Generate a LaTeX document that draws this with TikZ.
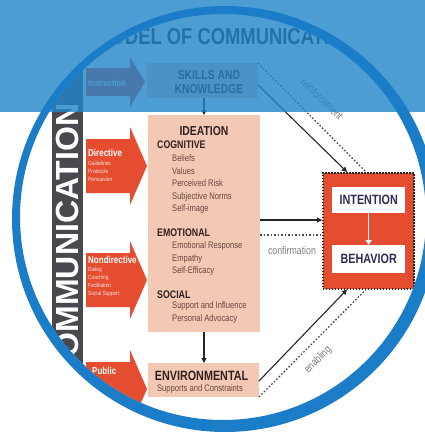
\documentclass[tikz,border=0pt]{standalone}
\usepackage{fontspec}
\setmainfont{Liberation Sans}
\newfontfamily\cond[FakeStretch=0.8]{Liberation Sans}
\usetikzlibrary{arrows.meta}
\definecolor{bandblue}{RGB}{33,133,203}
\definecolor{ringblue}{RGB}{27,125,200}
\definecolor{redc}{RGB}{228,77,48}
\definecolor{peach}{RGB}{243,201,182}
\definecolor{barg}{RGB}{72,72,78}
\definecolor{ink}{RGB}{50,32,32}
\definecolor{itemc}{RGB}{105,70,62}
\definecolor{navy}{RGB}{45,45,85}
\definecolor{lblgray}{RGB}{125,125,135}
\tikzset{
 pbox/.style={fill=peach, anchor=north west, inner sep=0pt, outer sep=0pt},
 itm/.style={anchor=base west, inner sep=0pt, text=itemc, font=\cond\fontsize{9.5}{10}\selectfont},
 hdr/.style={anchor=base west, inner sep=0pt, text=ink, font=\cond\bfseries\fontsize{11}{12}\selectfont},
 arr/.style={line width=1.1pt, draw=black!85, -{Triangle[length=5pt,width=5pt]}},
 dots/.style={line width=1.3pt, draw=black!70, dash pattern=on 1.6pt off 1.9pt},
 lbl/.style={text=lblgray, inner sep=0pt, font=\cond\fontsize{11}{12}\selectfont},
 wlab/.style={anchor=base west, inner sep=0pt, text=white, font=\cond\bfseries\fontsize{10}{10}\selectfont},
 wsub/.style={anchor=base west, inner sep=0pt, text=white!85!redc, font=\cond\fontsize{6}{6}\selectfont},
}
\begin{document}
\begin{tikzpicture}[x=1pt,y=-1pt]
\useasboundingbox (0,0) rectangle (425,436);
\fill[white] (0,0) rectangle (425,436);
\begin{scope}
\clip (223,217) circle (203);
% dark bar with vertical title
\fill[barg] (52,0) rectangle (83,436);
\node[rotate=90, anchor=base, inner sep=0pt, text=white, font=\bfseries\fontsize{32}{32}\selectfont] (commtxt) at (78.5,242) {COMMUNICATION};
% title
\node[text=ink, inner sep=0pt, font=\cond\bfseries\fontsize{23}{24}\selectfont] (title) at (226,37) {MODEL OF COMMUNICATION};
% red block arrows
\fill[redc] (86,68) -- (130,68) -- (130,57) -- (145,82) -- (130,107) -- (130,96) -- (86,96) -- cycle;
\foreach \cy in {166,280,389}{
  \fill[redc] (86,{\cy-27}) -- (130,{\cy-27}) -- (130,{\cy-39}) -- (147,\cy) -- (130,{\cy+39}) -- (130,{\cy+27}) -- (86,{\cy+27}) -- cycle;
}
\node[wlab, font=\cond\bfseries\fontsize{9}{9}\selectfont] (instr) at (88,86) {Instruction};
\node[wlab] (direc) at (88,156) {Directive};
\node[wsub] (d1) at (88,165) {Guidelines};
\node[wsub] (d2) at (88,173) {Protocols};
\node[wsub] (d3) at (88,181) {Persuasion};
\node[wlab] (nondir) at (88,263) {Nondirective};
\node[wsub] (n1) at (88,271) {Dialog};
\node[wsub] (n2) at (88,279) {Coaching};
\node[wsub] (n3) at (88,287) {Facilitation};
\node[wsub] (n4) at (88,295) {Social Support};
\node[wlab] (publ) at (92,374) {Public};
% peach boxes
\node[pbox, minimum width=111pt, minimum height=35pt] (skills) at (147,63) {};
\node[align=center, inner sep=0pt, text=ink, font=\cond\bfseries\fontsize{13}{14}\selectfont] (skillstxt) at (209,82) {SKILLS AND\\KNOWLEDGE};
\node[pbox, minimum width=112pt, minimum height=217pt] (ideation) at (148,115) {};
\node[anchor=base, inner sep=0pt, text=ink, font=\cond\bfseries\fontsize{13}{14}\selectfont] (ideatxt) at (204,135.5) {IDEATION};
\node[hdr] (cog) at (157,148) {COGNITIVE};
\node[itm] (c1) at (172,161.5) {Beliefs};
\node[itm] (c2) at (172,174) {Values};
\node[itm] (c3) at (172,186.5) {Perceived Risk};
\node[itm] (c4) at (172,199) {Subjective Norms};
\node[itm] (c5) at (172,211.5) {Self-image};
\node[hdr] (emo) at (157,236) {EMOTIONAL};
\node[itm] (e1) at (172,248.5) {Emotional Response};
\node[itm] (e2) at (172,261) {Empathy};
\node[itm] (e3) at (172,273.5) {Self-Efficacy};
\node[hdr] (soc) at (157,298) {SOCIAL};
\node[itm] (s1) at (172,308.5) {Support and Influence};
\node[itm] (s2) at (172,321.5) {Personal Advocacy};
\node[pbox, minimum width=111pt, minimum height=34pt] (env) at (148,363) {};
\node[anchor=base, inner sep=0pt, text=ink, font=\cond\bfseries\fontsize{13.5}{14}\selectfont] (envtxt) at (201.5,380) {ENVIRONMENTAL};
\node[anchor=base, inner sep=0pt, text=itemc, font=\cond\fontsize{9.5}{10}\selectfont] (envsub) at (200,391) {Supports and Constraints};
% intention / behavior
\node[fill=redc, draw=black!85, line width=1.5pt, dash pattern=on 1.5pt off 1.5pt, anchor=north west, inner sep=0pt, minimum width=91pt, minimum height=116pt] (ib) at (322,172) {};
\node[fill=white, anchor=north west, inner sep=0pt, minimum width=73pt, minimum height=26pt, text=navy, font=\cond\bfseries\fontsize{13.5}{14}\selectfont] (intention) at (332,187) {INTENTION};
\node[fill=white, anchor=north west, inner sep=0pt, minimum width=73pt, minimum height=28pt, text=navy, font=\cond\bfseries\fontsize{13.5}{14}\selectfont] (behavior) at (332,245) {BEHAVIOR};
\draw[line width=1.3pt, white, -{Triangle[length=5pt,width=6pt]}] (intention.south) -- (behavior.north);
% connectors
\draw[arr] (skills.south -| ideatxt.north) -- (ideation.north -| ideatxt.north);
\draw[arr] (ideation.south -| ideatxt.north) -- (env.north -| ideatxt.north);
\draw[arr] (ideation.east |- 0,220) -- (ib.west |- 0,220);
\draw[dots] (ideation.east |- 0,235) -- (ib.west |- 0,235);
\draw[arr] (skills.east |- 0,85) -- (ib.north -| 347,0);
\draw[dots] (skills.north east) -- (ib.north -| 366,0);
\draw[arr] (env.east |- 0,381) -- (ib.south -| 347,0);
\draw[dots] (env.south east) -- (ib.south -| 366,0);
\node[lbl] (confl) at (292,251) {confirmation};
\node[lbl, rotate=-44] (reinf) at (322,99) {reinforcement};
\node[lbl, rotate=45] (enabl) at (318,360) {enabling};
\end{scope}
% translucent band
\fill[bandblue, opacity=0.8] (0,0) rectangle (425,112);
% ring
\fill[ringblue, even odd rule] (225,219) circle (213) (223,217) circle (203);
\end{tikzpicture}
\end{document}
